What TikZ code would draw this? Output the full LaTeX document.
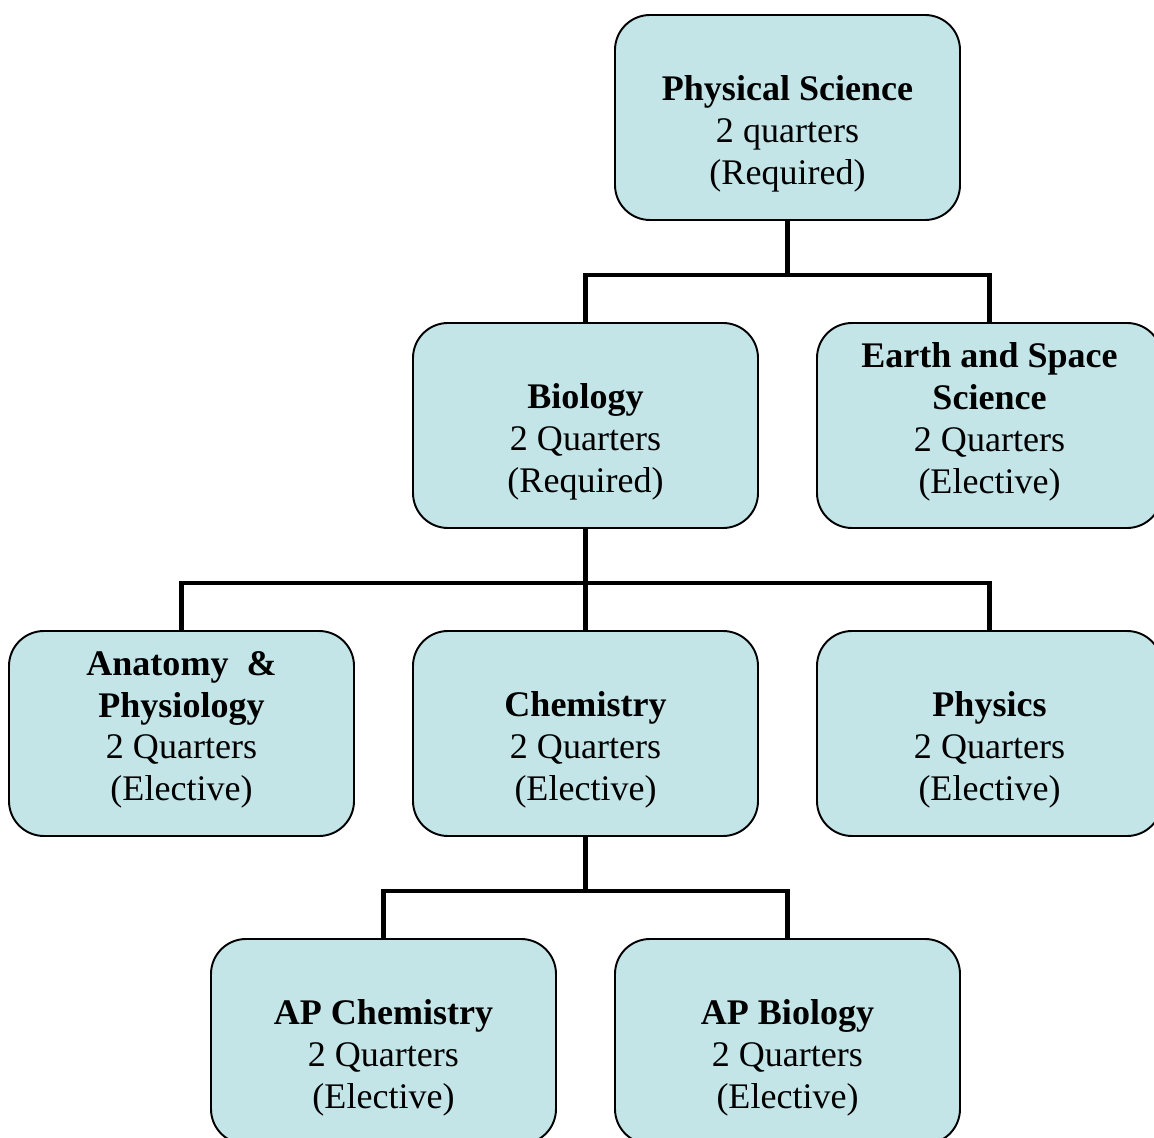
\documentclass[tikz,border=0pt]{standalone}
\usepackage{fontspec}
\setmainfont{Liberation Serif}
\usetikzlibrary{positioning, calc}
\definecolor{boxfill}{RGB}{196,229,232}
% pushes three-line labels down, four-line labels up a little
\newcommand{\lowerstrut}{\rule{0pt}{1.15cm}}
\newcommand{\raisestrut}{\rule[-0.3cm]{0pt}{0pt}}

\begin{document}
\begin{tikzpicture}[
        course/.style={rectangle, draw=black, line width=1.1pt, fill=boxfill, rounded corners=0.7cm, minimum width=6.9cm, minimum height=4.1cm, outer sep=0pt, align=center, font=\fontsize{20.5}{23.8}\selectfont},
        link/.style={draw=black, line width=2.8pt}
    ]
        \clip[use as bounding box] (0,0) rectangle (23.08,-22.76);

        \node[course] (physsci) at (15.75,-2.35) {\lowerstrut\textbf{Physical Science}\\2 quarters\\(Required)};
        \node[course, below=2.06cm of physsci, xshift=-4.04cm] (biology) {\lowerstrut\textbf{Biology}\\2 Quarters\\(Required)};
        \node[course, right=1.18cm of biology] (earth) {\textbf{Earth and Space}\\\textbf{Science}\\2 Quarters\\(Elective)\raisestrut};
        \node[course, below=2.06cm of biology] (chemistry) {\lowerstrut\textbf{Chemistry}\\2 Quarters\\(Elective)};
        \node[course, left=1.18cm of chemistry] (anatomy) {\textbf{Anatomy\ \ \&}\\\textbf{Physiology}\\2 Quarters\\(Elective)\raisestrut};
        \node[course, right=1.18cm of chemistry] (physics) {\lowerstrut\textbf{Physics}\\2 Quarters\\(Elective)};
        \node[course, below=2.06cm of chemistry, xshift=-4.04cm] (apchem) {\lowerstrut\textbf{AP Chemistry}\\2 Quarters\\(Elective)};
        \node[course, right=1.18cm of apchem] (apbio) {\lowerstrut\textbf{AP Biology}\\2 Quarters\\(Elective)};

        % branch points
        \coordinate (physjoin) at ($(physsci.south)+(0,-1.1)$);
        \coordinate (biojoin) at ($(biology.south)+(0,-1.1)$);
        \coordinate (chemjoin) at ($(chemistry.south)+(0,-1.1)$);

        \draw[link] (physsci.south) -- (physjoin);
        \draw[link] (biology.north) |- (physjoin) -| (earth.north);
        \draw[link] (biology.south) -- (chemistry.north);
        \draw[link] (anatomy.north) |- (biojoin) -| (physics.north);
        \draw[link] (chemistry.south) -- (chemjoin);
        \draw[link] (apchem.north) |- (chemjoin) -| (apbio.north);
    \end{tikzpicture}
\end{document}
